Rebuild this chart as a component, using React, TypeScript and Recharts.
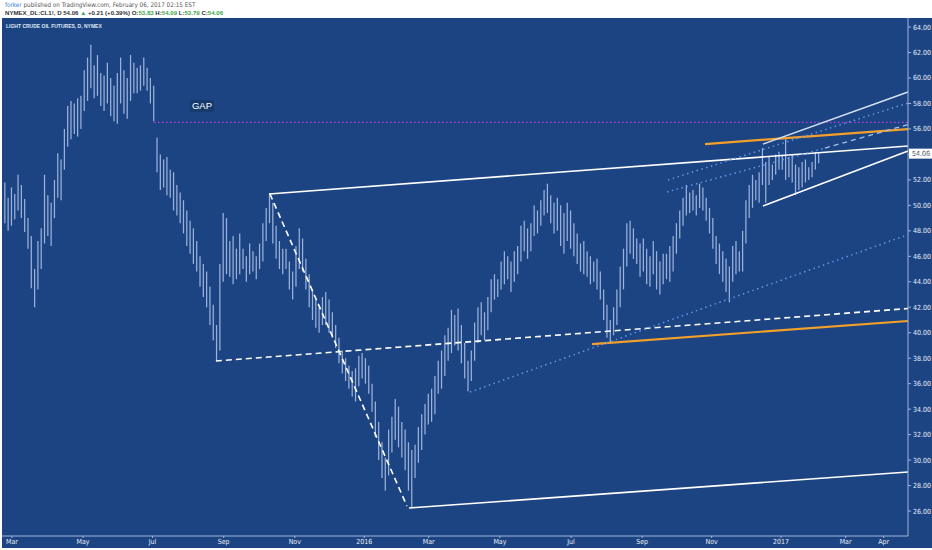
import React from 'react';
import { ComposedChart, Bar, XAxis, YAxis, ReferenceLine, ReferenceDot } from 'recharts';

// CL1! daily, drawn as one stick per two sessions.
// x = trading session counted from Mar 02 2015 (first stick sits 5 sessions earlier)
const firstSession = -5;
const sessionsPerStick = 2;

const highs2015 = [
  51.8, 50.6, 51.4, 50.9, 52.4, 51.6, 50.5, 49.0, 47.6, 45.0,
  47.2, 48.2, 52.4, 50.8, 50.2, 52.0, 54.1, 53.6, 56.0, 57.8,
  58.2, 58.0, 58.4, 58.6, 60.6, 61.6, 62.6, 61.0, 61.8, 60.4,
  60.2, 61.2, 60.0, 59.4, 60.4, 61.6, 60.6, 60.0, 61.8, 61.2,
  60.8, 61.0, 61.6, 60.8, 60.0, 59.4, 55.3, 54.0, 53.6, 53.8,
  52.8, 52.6, 51.6, 51.0, 50.4, 49.6, 48.8, 48.2, 47.2, 46.0,
  45.4, 44.8, 43.6, 42.2, 40.6, 45.4, 49.4, 49.0, 47.2, 47.6,
  46.6, 47.8, 46.6, 46.0, 47.0, 46.4, 46.0, 47.0, 48.6, 49.8,
  50.9, 50.2, 48.4, 47.2, 46.6, 46.6, 45.6, 44.8, 46.8, 48.2,
  47.4, 45.8, 44.6, 43.4, 42.6, 42.0, 42.8, 43.2, 42.6, 41.6,
  40.6, 39.6, 38.6, 38.0, 37.4, 37.0, 37.2, 38.2, 38.4,
];
const lows2015 = [
  48.6, 48.0, 48.4, 48.9, 49.6, 49.0, 47.9, 46.6, 43.5, 42.0,
  43.4, 45.0, 47.0, 47.6, 46.8, 49.0, 50.6, 50.4, 52.8, 54.6,
  55.2, 55.6, 55.4, 56.0, 57.4, 58.2, 59.2, 58.4, 58.6, 57.8,
  57.4, 58.0, 57.0, 56.6, 56.4, 58.0, 57.2, 56.8, 58.2, 58.8,
  58.8, 59.0, 59.4, 59.0, 58.0, 56.6, 52.6, 51.2, 51.4, 50.8,
  50.6, 49.6, 49.2, 48.6, 47.8, 46.8, 46.2, 45.4, 44.8, 43.6,
  42.8, 42.0, 40.6, 39.4, 37.8, 38.6, 44.0, 44.6, 44.4, 43.8,
  44.2, 44.6, 45.0, 44.0, 44.6, 44.8, 44.2, 45.0, 45.6, 47.2,
  48.6, 47.0, 45.8, 45.0, 44.6, 45.0, 43.4, 42.6, 43.6, 45.0,
  44.8, 43.4, 42.0, 41.0, 40.4, 40.0, 40.6, 40.6, 40.0, 39.6,
  38.8, 37.6, 36.8, 36.2, 35.6, 35.0, 34.6, 35.8, 36.4,
];
const highs2016 = [
  38.0, 37.4, 36.0, 34.6, 33.0, 31.4, 30.2, 32.4, 33.4, 34.8,
  34.2, 33.0, 32.4, 31.4, 30.8, 31.2, 32.6, 33.6, 34.4, 35.2,
  35.6, 36.6, 37.8, 38.6, 39.8, 40.4, 41.8, 41.4, 41.9, 40.6,
  39.2, 37.8, 38.6, 40.8, 42.0, 42.4, 41.6, 42.8, 44.2, 44.6,
  44.2, 45.6, 46.4, 46.0, 45.6, 46.4, 46.8, 48.4, 48.8, 48.2,
  48.6, 50.0, 49.6, 50.4, 51.2, 51.7, 50.8, 50.2, 50.6, 50.0,
  49.4, 50.2, 49.6, 48.6, 47.8, 47.0, 47.2, 46.4, 46.0, 45.6,
  45.8, 44.8, 43.4, 42.2, 41.0, 42.0, 43.4, 45.2, 46.6, 48.6,
  48.8, 48.2, 47.4, 47.0, 47.4, 46.6, 46.0, 47.2, 46.4, 45.6,
  46.2, 46.2, 46.8, 47.6, 48.6, 49.6, 50.6, 51.6, 51.0, 51.2,
  50.8, 51.7, 51.4, 50.6, 49.8, 49.0, 47.6, 47.0, 46.4, 45.8,
  45.2, 46.8, 47.2, 46.4, 48.0, 50.4, 51.6, 52.4, 52.0, 52.6,
  54.5, 53.4, 53.8, 53.2, 54.0, 54.2,
];
const lows2016 = [
  36.0, 35.2, 33.8, 31.8, 30.0, 28.6, 27.6, 28.8, 30.6, 31.6,
  31.0, 30.2, 29.2, 27.6, 26.2, 28.6, 29.8, 30.8, 32.0, 32.8,
  33.0, 33.6, 35.2, 35.6, 36.6, 37.8, 38.4, 39.0, 38.6, 37.6,
  36.4, 35.4, 36.2, 37.8, 39.2, 39.8, 39.4, 40.2, 41.6, 42.6,
  42.8, 43.4, 43.8, 44.2, 43.2, 44.0, 44.6, 45.6, 46.4, 45.8,
  46.4, 47.6, 47.8, 48.4, 49.2, 49.4, 48.6, 47.8, 48.0, 46.8,
  46.2, 47.2, 46.6, 46.0, 45.4, 44.8, 44.6, 44.4, 43.8, 44.0,
  43.4, 42.6, 41.0, 39.6, 39.2, 39.8, 40.6, 42.0, 43.4, 45.2,
  46.2, 45.8, 45.4, 44.4, 44.8, 43.8, 43.6, 44.6, 43.4, 43.0,
  43.8, 44.2, 44.0, 44.8, 46.2, 47.4, 48.4, 49.2, 49.4, 49.6,
  49.2, 49.8, 49.6, 48.8, 47.8, 46.6, 45.4, 44.6, 44.0, 43.2,
  42.4, 44.0, 44.6, 44.8, 44.8, 47.0, 49.0, 49.8, 50.4, 50.2,
  51.6, 50.2, 51.6, 52.0, 52.4, 52.8,
];
const highs2017 = [54.0, 55.2, 53.8, 54.0, 53.2, 53.0, 53.4, 53.6, 53.0, 53.4, 54.2, 54.1];
const lows2017 = [52.8, 52.0, 52.2, 51.8, 50.8, 51.2, 51.4, 51.8, 52.0, 52.2, 52.8, 53.3];

const lastPrice = 54.06;

// month labels and the session on which each month starts
const monthSessions = [0, 43, 85, 128, 171, 213, 252, 295, 338, 381, 423, 465, 504, 527];
const monthLabels = ['Mar', 'May', 'Jul', 'Sep', 'Nov', '2016', 'Mar', 'May', 'Jul', 'Sep', 'Nov', '2017', 'Mar', 'Apr'];

const priceTicks = [26, 28, 30, 32, 34, 36, 38, 40, 42, 44, 46, 48, 50, 52, 54, 56, 58, 60, 62, 64];

// hand drawn annotations: [session, price] -> [session, price]
const drawings: { kind: string; from: [number, number]; to: [number, number] }[] = [
  { kind: 'gap', from: [85.9, 56.52], to: [541.7, 56.52] },
  { kind: 'white', from: [155.4, 50.89], to: [541.7, 54.66] },
  { kind: 'white', from: [240.0, 26.24], to: [541.7, 29.06] },
  { kind: 'whiteDash', from: [156.0, 50.89], to: [238.8, 26.39] },
  { kind: 'whiteDash', from: [123.3, 37.78], to: [541.7, 41.9] },
  { kind: 'orange', from: [350.7, 39.11], to: [541.7, 40.92] },
  { kind: 'orange', from: [419.0, 54.81], to: [541.7, 55.99] },
  { kind: 'pale', from: [454.0, 54.81], to: [541.7, 58.9] },
  { kind: 'white', from: [454.0, 49.95], to: [541.7, 54.26] },
  { kind: 'dots', from: [276.9, 35.34], to: [541.7, 47.7] },
  { kind: 'dots', from: [396.6, 52.0], to: [541.7, 58.03] },
  { kind: 'dots', from: [396.0, 51.05], to: [491.5, 54.5] },
  { kind: 'paleDash', from: [491.5, 54.5], to: [541.7, 56.34] },
];
const gapNote = { session: 114.9, price: 57.8, text: 'GAP' };

const lineStyles: Record<string, { stroke: string; width: number; dash?: string }> = {
  gap: { stroke: '#b83fe6', width: 1.2, dash: '1.5 2.5' },
  white: { stroke: '#ffffff', width: 1.6 },
  whiteDash: { stroke: '#ffffff', width: 1.6, dash: '6 4' },
  orange: { stroke: '#f3a02a', width: 2.2 },
  pale: { stroke: '#d5e2f6', width: 1.5 },
  dots: { stroke: '#5f96ea', width: 1.5, dash: '1.5 3.5' },
  paleDash: { stroke: '#a9c1ea', width: 1.3, dash: '5 4' },
};

const highs = [...highs2015, ...highs2016, ...highs2017];
const lows = [...lows2015, ...lows2016, ...lows2017];
const data = highs.map((h, k) => ({
  session: firstSession + k * sessionsPerStick + 0.5,
  range: [lows[k], h],
}));

const BG = '#1d4482';
const AXIS = '#9fb4da';
const axisFont = "'Liberation Sans Narrow', 'DejaVu Sans Condensed', Arial, sans-serif";
const headFont = "'Liberation Sans', Arial, sans-serif";

const Stick = (props: any) => {
  const { x, y, width, height } = props;
  if (x == null || y == null || height == null) return null;
  const cx = x + width / 2;
  const top = Math.min(y, y + height);
  const bottom = Math.max(y, y + height);
  return <line x1={cx} x2={cx} y1={top} y2={bottom} stroke="#9ab1da" strokeWidth={1.25} />;
};

const App: React.FC = () => {
  return (
    <div style={{ position: 'absolute', left: 0, top: 0, width: 932, height: 550, background: '#fff', overflow: 'hidden' }}>
      <div style={{ position: 'absolute', left: 5, top: 1, fontFamily: axisFont, fontSize: 6.3, color: '#555', whiteSpace: 'nowrap' }}>
        <span style={{ color: '#2a7de1' }}>forker</span> published on TradingView.com, February 06, 2017 02:15 EST
      </div>
      <div style={{ position: 'absolute', left: 5, top: 9, fontFamily: headFont, fontSize: 6.1, fontWeight: 700, color: '#333', whiteSpace: 'nowrap' }}>
        NYMEX_DL:CL1!, D 54.06 <span style={{ color: '#3aa64a' }}>▲</span> +0.21 (+0.39%) O:<span style={{ color: '#3aa64a' }}>53.83</span> H:
        <span style={{ color: '#3aa64a' }}>54.09</span> L:<span style={{ color: '#3aa64a' }}>53.79</span> C:
        <span style={{ color: '#3aa64a' }}>54.06</span>
      </div>
      <div style={{ position: 'absolute', left: 2, top: 18, width: 930, height: 530, background: BG }} />
      <div style={{ position: 'absolute', left: 6, top: 23, fontFamily: headFont, fontSize: 5, fontWeight: 700, color: '#dfe7f5', whiteSpace: 'nowrap' }}>
        LIGHT CRUDE OIL FUTURES, D, NYMEX
      </div>
      <div style={{ position: 'absolute', left: 0, top: 0 }}>
        <ComposedChart width={932} height={550} data={data} margin={{ top: 18, right: 0, bottom: 2, left: 2 }}>
          <XAxis
            type="number"
            dataKey="session"
            domain={[-6, 541.7]}
            allowDataOverflow
            ticks={monthSessions}
            interval={0}
            tickFormatter={(v: number) => monthLabels[monthSessions.indexOf(v)] ?? ''}
            height={12}
            stroke={AXIS}
            tickSize={2}
            tickMargin={1}
            tick={{ fill: '#e6ecf7', fontSize: 7, fontFamily: axisFont }}
          />
          <YAxis
            orientation="right"
            domain={[24.04, 64.71]}
            allowDataOverflow
            ticks={priceTicks}
            interval={0}
            tickFormatter={(v: number) => v.toFixed(2)}
            width={24}
            stroke={AXIS}
            tickSize={3}
            tickMargin={2}
            tick={{ fill: '#e6ecf7', fontSize: 7, fontFamily: axisFont, textAnchor: 'start' }}
          />
          <Bar dataKey="range" barSize={2} shape={Stick} isAnimationActive={false} />
          {drawings.map((d, idx) => {
            const st = lineStyles[d.kind];
            return (
              <ReferenceLine
                key={idx}
                segment={[{ x: d.from[0], y: d.from[1] }, { x: d.to[0], y: d.to[1] }]}
                stroke={st.stroke}
                strokeWidth={st.width}
                strokeDasharray={st.dash}
                ifOverflow="visible"
              />
            );
          })}
          <ReferenceDot
            x={gapNote.session}
            y={gapNote.price}
            ifOverflow="visible"
            shape={(p: any) => (
              <g>
                <rect x={p.cx - 12} y={p.cy - 6} width={24} height={12} rx={2} fill="#173a6c" />
                <text x={p.cx} y={p.cy + 3.3} textAnchor="middle" fill="#ffffff" fontSize={9.5} fontFamily={headFont}>
                  {gapNote.text}
                </text>
              </g>
            )}
          />
          <ReferenceDot
            x={541.7}
            y={lastPrice}
            ifOverflow="visible"
            shape={(p: any) => (
              <g>
                <rect x={p.cx + 1} y={p.cy - 5} width={23} height={10} fill="#ffffff" />
                <text x={p.cx + 4} y={p.cy + 2.5} fill="#1a2a44" fontSize={7} fontFamily={axisFont}>
                  {lastPrice.toFixed(2)}
                </text>
              </g>
            )}
          />
        </ComposedChart>
      </div>
    </div>
  );
};

export default App;
